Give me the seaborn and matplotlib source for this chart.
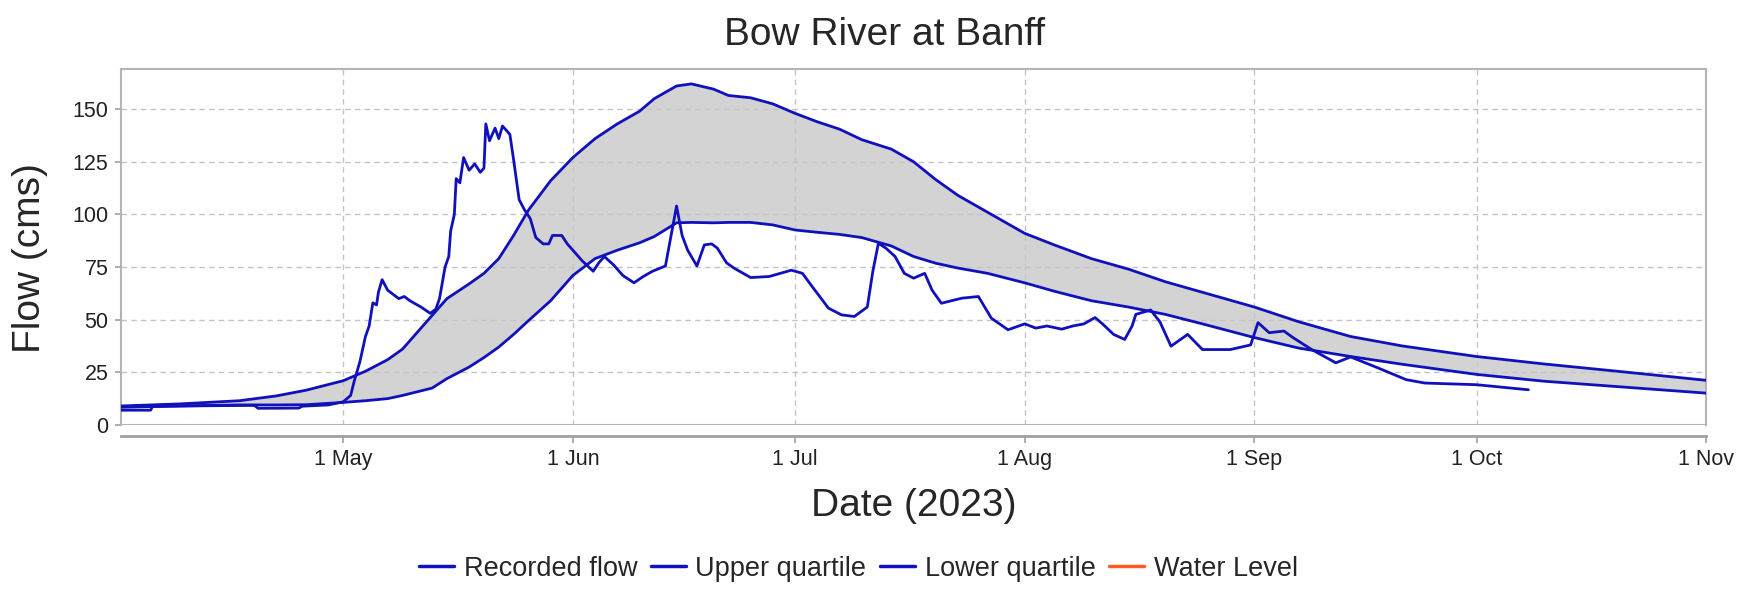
import matplotlib
matplotlib.use("Agg")
import pandas as pd
import matplotlib.pyplot as plt
import seaborn as sns
from matplotlib.lines import Line2D

# quartile envelope (cms)
q_dates = ['2023-04-01', '2023-04-09', '2023-04-17', '2023-04-22', '2023-04-26',
           '2023-05-01', '2023-05-04', '2023-05-07', '2023-05-09', '2023-05-13',
           '2023-05-15', '2023-05-18', '2023-05-20', '2023-05-22', '2023-05-24',
           '2023-05-26', '2023-05-29', '2023-06-01', '2023-06-04', '2023-06-07',
           '2023-06-10', '2023-06-12', '2023-06-15', '2023-06-17', '2023-06-20',
           '2023-06-22', '2023-06-25', '2023-06-28', '2023-07-01', '2023-07-04',
           '2023-07-07', '2023-07-10', '2023-07-14', '2023-07-17', '2023-07-20',
           '2023-07-23', '2023-07-27', '2023-08-01', '2023-08-05', '2023-08-10',
           '2023-08-15', '2023-08-20', '2023-08-25', '2023-09-01', '2023-09-07',
           '2023-09-14', '2023-09-21', '2023-10-01', '2023-10-10', '2023-10-20',
           '2023-11-01']
upper_q = [9.0, 10.0, 11.5, 13.8, 16.5,
           21.0, 25.5, 31.0, 36.0, 52.0,
           60.0, 67.0, 72.0, 79.0, 90.0,
           102.0, 116.0, 127.0, 136.0, 143.0,
           149.0, 155.0, 161.0, 162.0, 159.5,
           156.5, 155.4, 152.5, 148.0, 144.0,
           140.5, 135.5, 131.0, 125.0, 116.5,
           109.0, 101.0, 91.0, 85.5, 79.0,
           74.0, 68.0, 63.0, 56.0, 49.0,
           42.0, 37.5, 32.5, 29.0, 25.5,
           21.2]
lower_q = [8.4, 9.0, 9.5, 9.5, 9.6,
           10.7, 11.5, 12.5, 14.0, 17.5,
           22.0, 27.5, 32.0, 37.0, 43.0,
           49.5, 59.0, 71.0, 79.0, 83.0,
           86.5, 89.5, 96.0, 96.2, 96.0,
           96.2, 96.2, 95.0, 92.6, 91.5,
           90.5, 89.0, 85.0, 80.0, 76.8,
           74.5, 72.0, 67.5, 63.5, 59.0,
           56.0, 52.5, 48.0, 41.5, 36.5,
           32.5, 28.8, 24.0, 20.8, 18.2,
           15.1]

# recorded flow (cms)
rec_dates = ['2023-04-01', '2023-04-05', '2023-04-05 06:00', '2023-04-09', '2023-04-19',
             '2023-04-19 12:00', '2023-04-25', '2023-04-25 12:00', '2023-04-29', '2023-05-01',
             '2023-05-02', '2023-05-02 12:00', '2023-05-03 06:00', '2023-05-04', '2023-05-04 12:00',
             '2023-05-05', '2023-05-05 12:00', '2023-05-05 18:00', '2023-05-06 06:00', '2023-05-07',
             '2023-05-07 18:00', '2023-05-08 12:00', '2023-05-09 06:00', '2023-05-10', '2023-05-11 12:00',
             '2023-05-12 18:00', '2023-05-13 12:00', '2023-05-14', '2023-05-14 18:00', '2023-05-15 06:00',
             '2023-05-15 12:00', '2023-05-16', '2023-05-16 06:00', '2023-05-16 18:00', '2023-05-17 06:00',
             '2023-05-18', '2023-05-18 18:00', '2023-05-19 12:00', '2023-05-20', '2023-05-20 06:00',
             '2023-05-20 18:00', '2023-05-21 12:00', '2023-05-22', '2023-05-22 12:00', '2023-05-23 12:00',
             '2023-05-24', '2023-05-24 18:00', '2023-05-25 12:00', '2023-05-26 06:00', '2023-05-27',
             '2023-05-28', '2023-05-28 18:00', '2023-05-29 06:00', '2023-05-30 12:00', '2023-05-31 06:00',
             '2023-06-01', '2023-06-02 06:00', '2023-06-03 18:00', '2023-06-04 12:00', '2023-06-05 06:00',
             '2023-06-06 12:00', '2023-06-07 18:00', '2023-06-09 06:00', '2023-06-10 12:00', '2023-06-11 18:00',
             '2023-06-13 12:00', '2023-06-14', '2023-06-15', '2023-06-15 18:00', '2023-06-16 12:00',
             '2023-06-17 18:00', '2023-06-18 18:00', '2023-06-19 18:00', '2023-06-20 12:00', '2023-06-21 18:00',
             '2023-06-22 18:00', '2023-06-25', '2023-06-27 12:00', '2023-06-30 12:00', '2023-07-02',
             '2023-07-03 06:00', '2023-07-05 12:00', '2023-07-07 06:00', '2023-07-09', '2023-07-10 18:00',
             '2023-07-11 12:00', '2023-07-12 06:00', '2023-07-13 06:00', '2023-07-14 12:00', '2023-07-15 18:00',
             '2023-07-17', '2023-07-18 12:00', '2023-07-19 12:00', '2023-07-20 18:00', '2023-07-23 12:00',
             '2023-07-25 18:00', '2023-07-27 12:00', '2023-07-29 18:00', '2023-08-01', '2023-08-02 12:00',
             '2023-08-04', '2023-08-06', '2023-08-07 12:00', '2023-08-09', '2023-08-10 12:00',
             '2023-08-11 12:00', '2023-08-13', '2023-08-14 12:00', '2023-08-15 12:00', '2023-08-16',
             '2023-08-18', '2023-08-19 06:00', '2023-08-20 18:00', '2023-08-23', '2023-08-25',
             '2023-08-28 18:00', '2023-08-31 12:00', '2023-09-01 12:00', '2023-09-03', '2023-09-05',
             '2023-09-06 06:00', '2023-09-08 18:00', '2023-09-12', '2023-09-14', '2023-09-17 18:00',
             '2023-09-21 12:00', '2023-09-24', '2023-10-01', '2023-10-08']
rec_flow = [7.0, 7.0, 8.8, 9.0, 9.3,
            7.9, 8.0, 8.9, 9.5, 11.0,
            14.0, 21.0, 30.0, 42.0, 47.0,
            58.0, 57.0, 63.0, 69.0, 64.0,
            62.0, 60.0, 61.0, 59.0, 56.0,
            53.0, 55.0, 60.0, 75.0, 80.0,
            92.0, 100.0, 117.0, 115.0, 127.0,
            121.0, 124.0, 120.0, 122.0, 143.0,
            135.0, 141.0, 136.0, 142.0, 138.0,
            126.0, 107.0, 102.0, 98.0, 89.0,
            86.0, 86.0, 90.0, 90.0, 86.0,
            83.0, 78.0, 73.0, 77.0, 80.0,
            76.0, 71.0, 67.5, 70.5, 73.0,
            75.5, 85.0, 104.0, 90.0, 83.0,
            75.5, 85.5, 86.0, 84.0, 77.0,
            74.5, 70.0, 70.5, 73.5, 72.0,
            66.0, 55.5, 52.3, 51.5, 56.0,
            73.0, 86.3, 84.0, 80.0, 72.0,
            69.7, 72.0, 64.0, 57.8, 60.2,
            61.0, 50.7, 45.2, 48.0, 46.0,
            47.0, 45.5, 47.0, 48.0, 51.0,
            48.0, 43.0, 40.6, 47.0, 52.5,
            54.6, 49.0, 37.4, 43.0, 35.8,
            35.8, 38.0, 48.6, 43.8, 44.6,
            41.4, 35.8, 29.5, 32.3, 27.0,
            21.5, 19.9, 19.1, 16.7]

month_ticks = ['2023-05-01', '2023-06-01', '2023-07-01', '2023-08-01',
               '2023-09-01', '2023-10-01', '2023-11-01']
month_labels = ['1 May', '1 Jun', '1 Jul', '1 Aug', '1 Sep', '1 Oct', '1 Nov']
y_ticks = [0, 25, 50, 75, 100, 125, 150]

BLUE = '#1010bc'
ORANGE = '#ff5a28'
GREY = '#b4b4b4'

sns.set_style('white')
plt.rcParams['font.family'] = ['Liberation Sans', 'DejaVu Sans']

quart = pd.DataFrame({'date': pd.to_datetime(q_dates), 'upper': upper_q, 'lower': lower_q})
rec = pd.DataFrame({'date': pd.to_datetime(rec_dates, format='ISO8601'), 'flow': rec_flow})

fig = plt.figure(figsize=(17.41, 5.91), dpi=100)
ax = fig.add_axes([0.0695, 0.281, 0.9105, 0.602])

# grey band between the quartiles, then the three blue series
ax.fill_between(quart['date'], quart['lower'], quart['upper'], color='#d3d3d3', lw=0, zorder=1)
sns.lineplot(data=quart, x='date', y='upper', ax=ax, color=BLUE, lw=2.0, zorder=3)
sns.lineplot(data=quart, x='date', y='lower', ax=ax, color=BLUE, lw=2.0, zorder=3)
sns.lineplot(data=rec, x='date', y='flow', ax=ax, color=BLUE, lw=2.0, zorder=4)

ax.set_xlim(pd.Timestamp('2023-04-01'), pd.Timestamp('2023-11-01'))
ax.set_ylim(0, 169)
ax.set_xticks(pd.to_datetime(month_ticks))
ax.set_xticklabels(month_labels)
ax.set_yticks(y_ticks)

ax.set_axisbelow('line')
ax.grid(True, color='#c4c4c4', lw=1.0, linestyle=(0, (4, 3)))

for side in ['top', 'right', 'left']:
    ax.spines[side].set_color(GREY)
    ax.spines[side].set_linewidth(1.5)
ax.spines['bottom'].set_position(('outward', 8))
ax.spines['bottom'].set_color('#a0a0a0')
ax.spines['bottom'].set_linewidth(2)
ax.axhline(0, color=GREY, lw=1.5, zorder=2)

ax.tick_params(axis='x', length=5, width=1.2, color='#a0a0a0', labelsize=15.5, pad=4, labelcolor='#222222')
ax.tick_params(axis='y', length=4, width=1.2, color='#a0a0a0', labelsize=15.5, pad=5, labelcolor='#222222')
ax.tick_params(bottom=True, left=True)

ax.set_xlabel('Date (2023)', fontsize=28)
ax.xaxis.set_label_coords(0.5, -0.228)
ax.xaxis.label.set_verticalalignment('center')
ax.set_ylabel('Flow (cms)', fontsize=28)
ax.yaxis.set_label_coords(-0.0574, 0.47)
ax.yaxis.label.set_verticalalignment('center')

fig.text(0.508, 0.94, 'Bow River at Banff', ha='center', va='center', fontsize=28)

handles = [Line2D([], [], color=BLUE, lw=2.5) for _ in range(3)]
handles.append(Line2D([], [], color=ORANGE, lw=2.5))
labels = ['Recorded flow', 'Upper quartile', 'Lower quartile', 'Water Level']
fig.legend(handles, labels, loc='center', bbox_to_anchor=(0.493, 0.038), ncol=4,
           frameon=False, fontsize=19.5, handlelength=1.3, handletextpad=0.35,
           columnspacing=0.5)

fig.savefig('out.png', dpi=100)
